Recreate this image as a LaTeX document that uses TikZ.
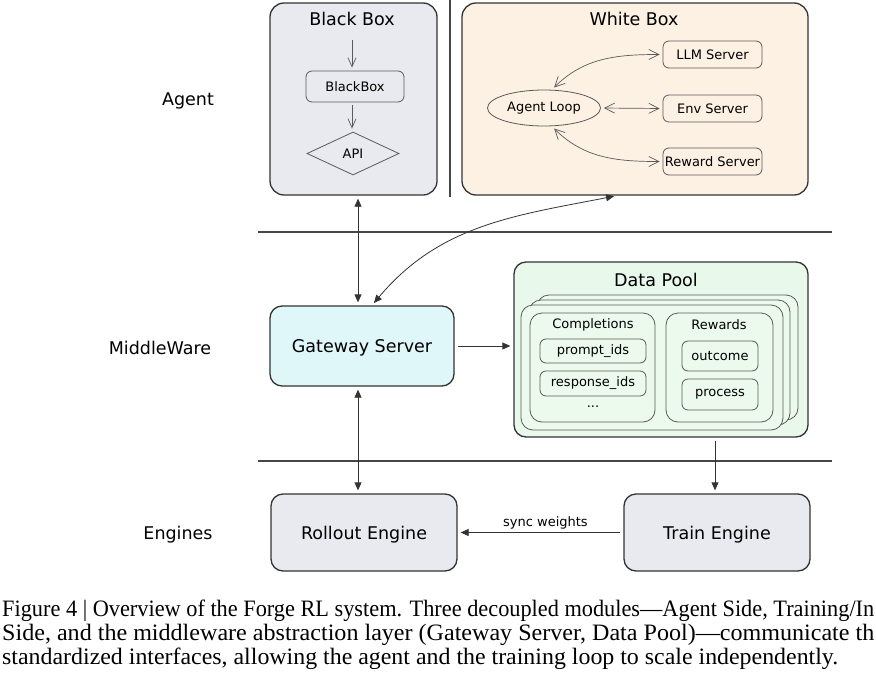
\documentclass[tikz,border=0pt]{standalone}
\usepackage{fontspec}
\setmainfont{DejaVu Sans}
\newfontfamily\capfont[Ligatures=TeX]{Liberation Serif}
\usepackage{xcolor}
\usetikzlibrary{arrows.meta,positioning,calc,shapes.geometric}

\definecolor{edge}{HTML}{333333}
\definecolor{edgel}{HTML}{5A5A5A}
\definecolor{boxgray}{HTML}{E8EAF0}
\definecolor{boxpeach}{HTML}{FDF1E4}
\definecolor{boxcyan}{HTML}{E0F7FA}
\definecolor{boxgreen}{HTML}{E8F8EB}
\definecolor{cardgreen}{HTML}{ECFAEE}

\begin{document}
\begin{tikzpicture}[
  x=1pt, y=-1pt,
  big/.style={font=\fontsize{17.5}{21}\selectfont},
  small/.style={font=\fontsize{13}{15.6}\selectfont},
  outer/.style={draw=edge, line width=1.3pt, rounded corners=14pt, inner sep=0pt},
  module/.style={outer, rounded corners=12pt, big, align=center, text height=14pt, text depth=1pt},
  inner/.style={draw=edgel, line width=0.8pt, rounded corners=6pt, inner sep=0pt, small},
  card/.style={draw=edgel, line width=0.8pt, rounded corners=12pt, fill=cardgreen},
  thin/.style={draw=edgel, line width=0.7pt, shorten >=3pt, shorten <=3pt},
  down/.style={thin, -{Straight Barb[length=9pt, width=8pt]}},
  twoway/.style={thin, {Straight Barb[length=10pt, width=10pt]}-{Straight Barb[length=10pt, width=10pt]}},
  flow/.style={draw=edge, line width=0.8pt, -{Triangle[length=8pt, width=7pt]}, shorten >=3pt, shorten <=3pt},
  both/.style={flow, {Triangle[length=8pt, width=7pt]}-{Triangle[length=8pt, width=7pt]}},
  layer/.style={draw=edge!90, line width=1.4pt},
  caption/.style={anchor=base west, inner sep=0pt, font=\capfont\fontsize{23.5}{24}\selectfont},
]
\useasboundingbox (0,0) rectangle (876,675);

% agent side
\node[outer, fill=boxgray, minimum width=167, minimum height=192] (bbox) at (353.5,99) {};
\node[big] (bbtitle) at (352,19) {Black Box};
\node[inner, fill=boxgray, minimum width=98, minimum height=31] (bbn) at (355,86.5) {BlackBox};
\node[draw=edgel, line width=0.8pt, diamond, aspect=2.1, inner sep=0pt, minimum width=92, minimum height=43, small, fill=boxgray] (api) at (353,153.5) {API};
\draw[down] (bbtitle.south |- 0,37) -- (bbtitle.south |- bbn.north);
\draw[down] (bbtitle.south |- bbn.south) -- (bbtitle.south |- api.north);

\draw[edge!90, line width=1.3pt] (450,0) -- (450,197);

\node[outer, fill=boxpeach, minimum width=346, minimum height=192] (wbox) at (635,99) {};
\node[big] (wbtitle) at (634,19) {White Box};
\node[inner, fill=boxpeach, minimum width=99, minimum height=27] (llm) at (712.5,54.5) {LLM Server};
\node[inner, fill=boxpeach, minimum width=99, minimum height=27] (env) at (712.5,108.5) {Env Server};
\node[inner, fill=boxpeach, minimum width=99, minimum height=27] (rwd) at (712.5,161.5) {Reward Server};
\node[draw=edgel, line width=0.8pt, ellipse, inner sep=0pt, minimum width=113, minimum height=36, small] (al) at (544,108) {Agent Loop};
\draw[twoway] ([xshift=8]al.north) to[out=45, in=180] (llm.west);
\draw[twoway] (al.east) -- (env.west);
\draw[twoway] ([xshift=8]al.south) to[out=-45, in=180] (rwd.west);

% layer lines
\draw[layer] (258,232) -- (832,232);
\draw[layer] (258,461) -- (832,461);

% middleware
\node[module, fill=boxcyan, minimum width=184, minimum height=80] (gw) at (362,346) {Gateway Server};
\node[outer, rounded corners=12pt, fill=boxgreen, minimum width=294, minimum height=175] (dp) at (661,349.5) {};
\node[big] (dptitle) at (656,280) {Data Pool};
\draw[card] (537,295) rectangle (798,420);
\draw[card] (529,300) rectangle (790,425);
\draw[card] (521,305) rectangle (783,430);
\node[card, inner sep=0pt, minimum width=125, minimum height=109] (comp) at (592.5,367.5) {};
\node[small] (comptitle) at (593,325) {Completions};
\node[inner, fill=cardgreen, minimum width=106, minimum height=24] (pid) at (593,351) {prompt\_ids};
\node[inner, fill=cardgreen, minimum width=106, minimum height=25] (rid) at (593,383.5) {response\_ids};
\node[small] (dots) at (593,407) {...};
\node[card, inner sep=0pt, minimum width=107, minimum height=109] (rew) at (719.5,367.5) {};
\node[small] (rewtitle) at (719,325) {Rewards};
\node[inner, fill=cardgreen, minimum width=76, minimum height=30] (outc) at (720,356) {outcome};
\node[inner, fill=cardgreen, minimum width=76, minimum height=31] (proc) at (720,394.5) {process};

% engines
\node[module, fill=boxgray, minimum width=186, minimum height=77] (ro) at (364,532.5) {Rollout Engine};
\node[module, fill=boxgray, minimum width=186, minimum height=77] (tr) at (717,532.5) {Train Engine};

\draw[both] ([xshift=4.5]bbox.south) -- ([xshift=-4]gw.north);
\draw[both] ([xshift=10]gw.north) to[out=50, in=191] ([xshift=-18]wbox.south);
\draw[flow] (gw.east) -- (dp.west |- gw.east);
\draw[both] ([xshift=-4]gw.south) -- ([xshift=-6]ro.north);
\draw[flow] ([xshift=-2]tr.north |- dp.south) -- ([xshift=-2]tr.north);
\draw[flow] (tr.west) -- node[above, small, pos=0.47] {sync weights} (ro.east);

% side labels
\node[big] (lagent) at (188,101) {Agent};
\node[big] (lmid) at (160,348) {MiddleWare};
\node[big] (leng) at (178,535) {Engines};

% caption
\node[caption] (cap1) at (2,616) {\resizebox{872pt}{\height}{Figure 4 | Overview of the Forge RL system. Three decoupled modules---Agent Side, Training/In}};
\node[caption] (cap2) at (2,640) {\resizebox{872pt}{\height}{Side, and the middleware abstraction layer (Gateway Server, Data Pool)---communicate th}};
\node[caption] (cap3) at (2,664) {\resizebox{836pt}{\height}{standardized interfaces, allowing the agent and the training loop to scale independently.}};
\end{tikzpicture}
\end{document}
